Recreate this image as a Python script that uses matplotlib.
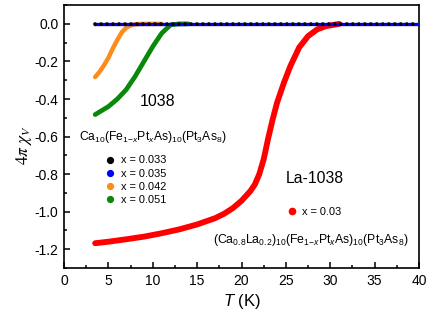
import matplotlib
matplotlib.use("Agg")
import matplotlib.pyplot as plt
from matplotlib.lines import Line2D
from matplotlib.ticker import MultipleLocator

plt.rcParams['font.family'] = ['Liberation Sans', 'DejaVu Sans']
plt.rcParams['mathtext.fontset'] = 'custom'
plt.rcParams['mathtext.rm'] = 'Liberation Sans'
plt.rcParams['mathtext.it'] = 'Liberation Sans:italic'

# === Data ===
T_flat = [3.5, 39.8]
chi_033 = [0.0, 0.0]
chi_035 = [0.0, 0.0]

T_042 = [3.5, 4.0, 4.5, 5.0, 5.5, 6.0, 6.5, 7.0, 7.5, 8.0, 9.0, 11.0]
chi_042 = [-0.283, -0.255, -0.22, -0.18, -0.13, -0.085, -0.045, -0.02, -0.008, -0.002, 0.0, 0.0]

T_051 = [3.5, 5.0, 6.0, 7.0, 8.0, 9.0, 10.0, 11.0, 12.0, 13.0, 14.0]
chi_051 = [-0.483, -0.44, -0.40, -0.35, -0.28, -0.20, -0.12, -0.05, -0.005, 0.0, 0.0]

T_la = [3.5, 5, 7, 9, 11, 13, 15, 17, 18, 19, 20, 21, 21.5, 22.0, 22.5, 23.0,
        23.5, 24.0, 24.8, 25.5, 26.5, 27.5, 28.5, 29.5, 30.5, 31.0]
chi_la = [-1.168, -1.16, -1.147, -1.133, -1.115, -1.094, -1.068, -1.035, -1.012, -0.982,
          -0.942, -0.89, -0.855, -0.80, -0.72, -0.61, -0.51, -0.42, -0.31, -0.225,
          -0.125, -0.065, -0.03, -0.012, -0.004, 0.0]

labels_1038 = ["x = 0.033", "x = 0.035", "x = 0.042", "x = 0.051"]
colors_1038 = ["black", "#0000ff", "#ff8c1a", "#0a880a"]
color_la = "#ff0000"

# === Figure ===
fig = plt.figure(figsize=(4.36, 3.2), dpi=100)
ax = fig.add_axes([0.147, 0.1625, 0.814, 0.8215])

ax.plot(T_la, chi_la, color=color_la, lw=4.2, solid_capstyle='round',
        solid_joinstyle='round', zorder=2)
ax.plot(T_051, chi_051, color=colors_1038[3], lw=3.4, solid_capstyle='round',
        solid_joinstyle='round', zorder=3)
ax.plot(T_042, chi_042, color=colors_1038[2], lw=3.2, solid_capstyle='round',
        solid_joinstyle='round', zorder=3)
ax.plot(T_flat, chi_035, color=colors_1038[1], lw=2.4, zorder=4)
ax.plot(T_flat, chi_033, color=colors_1038[0], lw=2.6, zorder=5,
        linestyle=(0, (0.01, 1.65)), dash_capstyle='round')

ax.set_xlim(0, 40)
ax.set_ylim(-1.3, 0.1)
ax.xaxis.set_major_locator(MultipleLocator(5))
ax.xaxis.set_minor_locator(MultipleLocator(2.5))
ax.yaxis.set_major_locator(MultipleLocator(0.2))
ax.yaxis.set_minor_locator(MultipleLocator(0.1))
ax.tick_params(which='both', direction='in', labelsize=10, width=1.1)
ax.tick_params(which='major', length=4, pad=4)
ax.tick_params(which='minor', length=2.5)
ax.yaxis.set_major_formatter(plt.FuncFormatter(lambda v, p: f"{v:.1f}"))
for s in ax.spines.values():
    s.set_linewidth(1.2)

ax.set_xlabel(r"$T$ (K)", fontsize=12, labelpad=3)
ax.set_ylabel(r"$4\pi\ \chi_V$", fontsize=12.5, math_fontfamily='stix')
ax.yaxis.set_label_coords(-0.085, 0.468)

# === Annotations ===
ax.text(10.5, -0.415, "1038", fontsize=11.5, ha='center', va='center')
ax.text(1.7, -0.60, r"Ca$_{10}$(Fe$_{1\mathrm{-}x}$Pt$_x$As)$_{10}$(Pt$_3$As$_8$)",
        fontsize=8.7, ha='left', va='center')
ax.text(28.3, -0.825, "La-1038", fontsize=11.3, ha='center', va='center')
ax.text(16.8, -1.152, r"(Ca$_{0.8}$La$_{0.2}$)$_{10}$(Fe$_{1\mathrm{-}x}$Pt$_x$As)$_{10}$(Pt$_3$As$_8$)",
        fontsize=8.8, ha='left', va='center')

handles = [Line2D([], [], marker='o', ls='', color=c, markersize=4.2) for c in colors_1038]
leg1 = ax.legend(handles, labels_1038, loc='upper left', bbox_to_anchor=(0.118, 0.428),
                 frameon=False, fontsize=7.9, handlelength=0.8, handletextpad=0.55,
                 labelspacing=0.28, borderpad=0, borderaxespad=0)
ax.add_artist(leg1)
ax.legend([Line2D([], [], marker='o', ls='', color=color_la, markersize=4.5)], ["x = 0.03"],
          loc='upper left', bbox_to_anchor=(0.63, 0.233), frameon=False, fontsize=7.9,
          handlelength=0.8, handletextpad=0.5, borderpad=0, borderaxespad=0)

fig.savefig("out.png", dpi=100)
